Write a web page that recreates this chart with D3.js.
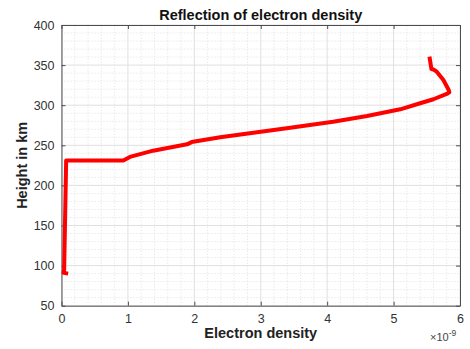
<!DOCTYPE html>
<html>
<head>
<meta charset="utf-8">
<script src="https://cdn.jsdelivr.net/npm/d3@7"></script>
<style>
  body { margin: 0; background: #fff; }
  text { font-family: "Liberation Sans", Arial, sans-serif; }
</style>
</head>
<body>
<script>
// electron density (in units of 1e-9) and height in km
var density = [0.10, 0.03, 0.04, 0.07, 0.93, 1.03, 1.38, 1.89, 1.96, 2.39, 2.89, 3.39, 3.74, 4.09, 4.60, 5.10, 5.40, 5.60, 5.80, 5.84, 5.83, 5.75, 5.65, 5.60, 5.57, 5.54];
var height  = [90, 91, 95, 231, 231, 235.5, 243.3, 251.2, 254, 260, 265.7, 271.2, 275.3, 279.4, 286.5, 294.9, 302.4, 307.4, 314, 316, 319, 331.4, 341.8, 344.5, 345, 360.5];
var xTicks = [0, 1, 2, 3, 4, 5, 6];
var yTicks = [50, 100, 150, 200, 250, 300, 350, 400];

var w = 470, h = 349;
var margin = {top: 25, right: 10, bottom: 43, left: 61.5};

var svg = d3.select("body").append("svg")
  .attr("width", w)
  .attr("height", h);

var x = d3.scaleLinear().domain([0, 6]).range([margin.left, 460]);
var y = d3.scaleLinear().domain([50, 400]).range([305.7, margin.top]);

//minor grid
var xMinor = d3.range(0, 6.001, 0.2).filter(function(d){ return Math.abs(d - Math.round(d)) > 1e-6; });
var yMinor = d3.range(50, 400.001, 10).filter(function(d){ return d % 50 != 0; });

svg.append("g").selectAll("line").data(xMinor).enter().append("line")
  .attr("x1", function(d){ return x(d); }).attr("x2", function(d){ return x(d); })
  .attr("y1", y(50)).attr("y2", y(400))
  .attr("stroke", "#d8d8d8").attr("stroke-width", 0.8).attr("stroke-dasharray", "1,2");
svg.append("g").selectAll("line").data(yMinor).enter().append("line")
  .attr("y1", function(d){ return y(d); }).attr("y2", function(d){ return y(d); })
  .attr("x1", x(0)).attr("x2", x(6))
  .attr("stroke", "#d8d8d8").attr("stroke-width", 0.8).attr("stroke-dasharray", "1,2");

//major grid
svg.append("g").selectAll("line").data(xTicks).enter().append("line")
  .attr("x1", function(d){ return x(d); }).attr("x2", function(d){ return x(d); })
  .attr("y1", y(50)).attr("y2", y(400))
  .attr("stroke", "#e0e0e0").attr("stroke-width", 1);
svg.append("g").selectAll("line").data(yTicks).enter().append("line")
  .attr("y1", function(d){ return y(d); }).attr("y2", function(d){ return y(d); })
  .attr("x1", x(0)).attr("x2", x(6))
  .attr("stroke", "#e0e0e0").attr("stroke-width", 1);

//axes
var fmt = d3.format("d");
var xAxis = d3.axisBottom(x).tickValues(xTicks).tickFormat(fmt).tickSizeInner(-4).tickSizeOuter(0).tickPadding(8);
var yAxis = d3.axisLeft(y).tickValues(yTicks).tickFormat(fmt).tickSizeInner(-4).tickSizeOuter(0).tickPadding(7);

var gx = svg.append("g").attr("transform", "translate(0," + y(50) + ")").call(xAxis);
var gy = svg.append("g").attr("transform", "translate(" + x(0) + ",0)").call(yAxis);
var gxt = svg.append("g").attr("transform", "translate(0," + y(400) + ")")
  .call(d3.axisTop(x).tickValues(xTicks).tickSizeInner(-4).tickSizeOuter(0).tickFormat(""));
var gyr = svg.append("g").attr("transform", "translate(" + x(6) + ",0)")
  .call(d3.axisRight(y).tickValues(yTicks).tickSizeInner(-4).tickSizeOuter(0).tickFormat(""));

[gx, gy, gxt, gyr].forEach(function(g){
  g.select(".domain").attr("stroke", "#4d4d4d");
  g.selectAll(".tick line").attr("stroke", "#4d4d4d");
  g.selectAll("text").attr("fill", "#333").style("font-size", "12.5px")
    .style("font-family", "Liberation Sans, Arial, sans-serif");
});

//curve
var line = d3.line()
  .x(function(d, i){ return x(density[i]); })
  .y(function(d, i){ return y(height[i]); });

svg.append("path")
  .datum(density)
  .attr("d", line)
  .attr("fill", "none")
  .attr("stroke", "#ff0000")
  .attr("stroke-width", 4)
  .attr("stroke-linejoin", "round");

//labels
svg.append("text")
  .attr("x", (x(0) + x(6)) / 2)
  .attr("y", 20)
  .attr("text-anchor", "middle")
  .style("font-size", "14.5px")
  .style("font-weight", "bold")
  .attr("fill", "#111")
  .text("Reflection of electron density");

svg.append("text")
  .attr("x", (x(0) + x(6)) / 2)
  .attr("y", 338)
  .attr("text-anchor", "middle")
  .style("font-size", "14.5px")
  .style("font-weight", "bold")
  .attr("fill", "#222")
  .text("Electron density");

svg.append("text")
  .attr("transform", "translate(27," + ((y(50) + y(400)) / 2) + ") rotate(-90)")
  .attr("text-anchor", "middle")
  .style("font-size", "14.5px")
  .style("font-weight", "bold")
  .attr("fill", "#222")
  .text("Height in km");

var exp = svg.append("text")
  .attr("x", 430)
  .attr("y", 341)
  .style("font-size", "11px")
  .attr("fill", "#444");
exp.append("tspan").text("\u00d710");
exp.append("tspan").attr("dy", -5).style("font-size", "8.5px").text("-9");
</script>
</body>
</html>
